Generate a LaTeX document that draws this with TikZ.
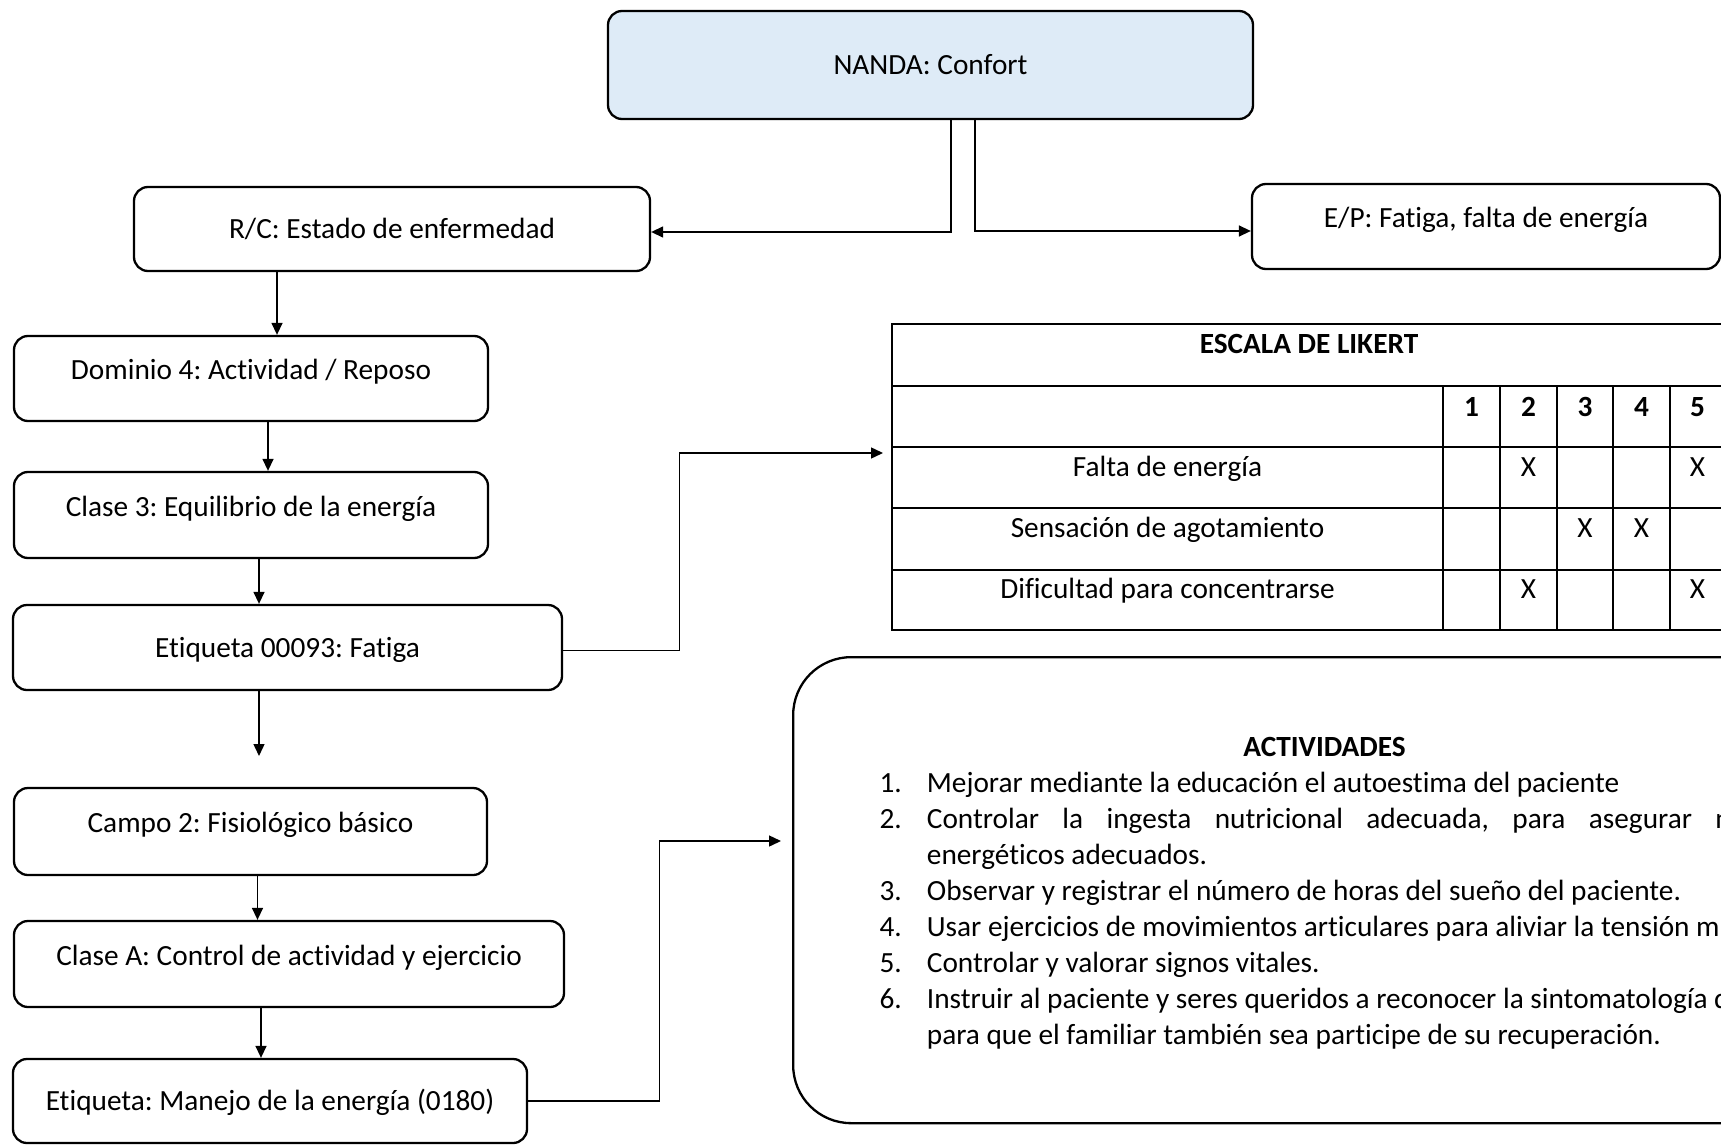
\documentclass[tikz,border=0pt]{standalone}
\usepackage{fontspec}
\setmainfont[Ligatures=NoCommon]{Carlito}
\frenchspacing
\usetikzlibrary{arrows.meta,calc}
\definecolor{nandablue}{RGB}{222,235,247}
\begin{document}
\begin{tikzpicture}[x=1pt,y=-1pt,
  every node/.style={font=\fontsize{29.3}{36}\selectfont},
  fbox/.style={draw, line width=2.3pt, rounded corners=14pt, inner sep=0pt, text height=21pt, text depth=2pt},
  upbox/.style={fbox, text depth=19pt},
  conn/.style={line width=1.4pt, -{Triangle[length=12pt,width=11pt]}},
  tline/.style={line width=2pt},
  txt/.style={inner sep=0pt, anchor=base},
  txtl/.style={inner sep=0pt, anchor=base west}]
\path[use as bounding box] (0,0) rectangle (1721,1145);
\clip (0,0) rectangle (1721,1145);

% boxes
\node[fbox, fill=nandablue, minimum width=645pt, minimum height=108pt] (nanda) at (930.5,65) {NANDA: Confort};
\node[fbox, minimum width=516pt, minimum height=84pt] (rc) at (392,229) {R/C: Estado de enfermedad};
\node[upbox, minimum width=468pt, minimum height=85pt] (ep) at (1486,226.5) {E/P: Fatiga, falta de energía};
\node[upbox, minimum width=474pt, minimum height=85pt] (dom) at (251,378.5) {Dominio 4: Actividad / Reposo};
\node[upbox, minimum width=474pt, minimum height=86pt] (cl3) at (251,515) {Clase 3: Equilibrio de la energía};
\node[fbox, minimum width=549pt, minimum height=85pt] (eti) at (287.5,647.5) {Etiqueta 00093: Fatiga};
\node[upbox, minimum width=473pt, minimum height=87pt] (campo) at (250.5,831.5) {Campo 2: Fisiológico básico};
\node[upbox, minimum width=550pt, minimum height=86pt] (cla) at (289,964) {Clase A: Control de actividad y ejercicio};
\node[fbox, minimum width=514pt, minimum height=84pt] (man) at (270,1101) {Etiqueta: Manejo de la energía (0180)};

% connectors
\draw[conn] ([xshift=20.5pt]nanda.south) |- ([yshift=-3pt]rc.east);
\draw[conn] ([xshift=44.5pt]nanda.south) |- ([yshift=-4.5pt]ep.west);
\draw[conn] ([xshift=-115pt]rc.south) -- ([xshift=-115pt]rc.south |- dom.north);
\draw[conn] ([xshift=17pt]dom.south) -- ([xshift=17pt]dom.south |- cl3.north);
\draw[conn] ([xshift=8pt]cl3.south) -- ([xshift=8pt]cl3.south |- eti.north);
\coordinate (etiend) at (259,756);
\draw[conn] (eti.south -| etiend) -- (etiend);
\draw[conn] ([xshift=7pt]campo.south) -- ([xshift=7pt]campo.south |- cla.north);
\draw[conn] ([xshift=-28pt]cla.south) -- ([xshift=-28pt]cla.south |- man.north);

\coordinate (likbend) at (679.5,453);
\coordinate (likin) at (883,453);
\draw[conn] ([yshift=-3pt]eti.east) -| (likbend) -- (likin);

\coordinate (actbend) at (659.7,841);
\coordinate (actin) at (781,841);
\draw[conn] (man.east) -| (actbend) -- (actin);

% Likert table
\draw[tline] (892,324) rectangle (1726,630);
\foreach \yy in {386,447,508,570} {\draw[tline] (892,\yy) -- (1726,\yy);}
\foreach \xx in {1443,1500,1557,1613,1669.5} {\draw[tline] (\xx,386) -- (\xx,630);}
\node[txt] (liktitle) at (1309,353) {\bfseries ESCALA DE LIKERT};
\node[txt] (h1) at (1471.5,416) {\bfseries 1};
\node[txt] (h2) at (1528.5,416) {\bfseries 2};
\node[txt] (h3) at (1585,416) {\bfseries 3};
\node[txt] (h4) at (1641.5,416) {\bfseries 4};
\node[txt] (h5) at (1697.5,416) {\bfseries 5};
\node[txt] (r1) at (1167.5,476) {Falta de energía};
\node[txt] (r2) at (1167.5,537) {Sensación de agotamiento};
\node[txt] (r3) at (1167.5,598) {Dificultad para concentrarse};
\node[txt] (x12) at (1528.5,476) {X};
\node[txt] (x15) at (1697.5,476) {X};
\node[txt] (x23) at (1585,537) {X};
\node[txt] (x24) at (1641.5,537) {X};
\node[txt] (x32) at (1528.5,598) {X};
\node[txt] (x35) at (1697.5,598) {X};

% Actividades box
\node[draw, line width=2.3pt, rounded corners=58pt, minimum width=1110pt, minimum height=466pt, anchor=north west, inner sep=0pt] (act) at (792,656) {};
\node[txt] (acttitle) at (1324.5,756) {\bfseries ACTIVIDADES};
\node[txtl] (n1) at (879.3,792) {1.};
\node[txtl] (t1) at (926.7,792) {Mejorar mediante la educación el autoestima del paciente};
\node[txtl] (n2) at (879.3,828) {2.};
\node[txtl] (t2) at (926.7,828) {\spaceskip=23.4pt Controlar la ingesta nutricional adecuada, para asegurar n};
\node[txtl] (t2b) at (926.7,864) {energéticos adecuados.};
\node[txtl] (n3) at (879.3,900) {3.};
\node[txtl] (t3) at (926.7,900) {Observar y registrar el número de horas del sueño del paciente.};
\node[txtl] (n4) at (879.3,936) {4.};
\node[txtl] (t4) at (926.7,936) {Usar ejercicios de movimientos articulares para aliviar la tensión m};
\node[txtl] (n5) at (879.3,972) {5.};
\node[txtl] (t5) at (926.7,972) {Controlar y valorar signos vitales.};
\node[txtl] (n6) at (879.3,1008) {6.};
\node[txtl] (t6) at (926.7,1008) {Instruir al paciente y seres queridos a reconocer la sintomatología d};
\node[txtl] (t6b) at (926.7,1044) {para que el familiar también sea participe de su recuperación.};
\end{tikzpicture}
\end{document}
